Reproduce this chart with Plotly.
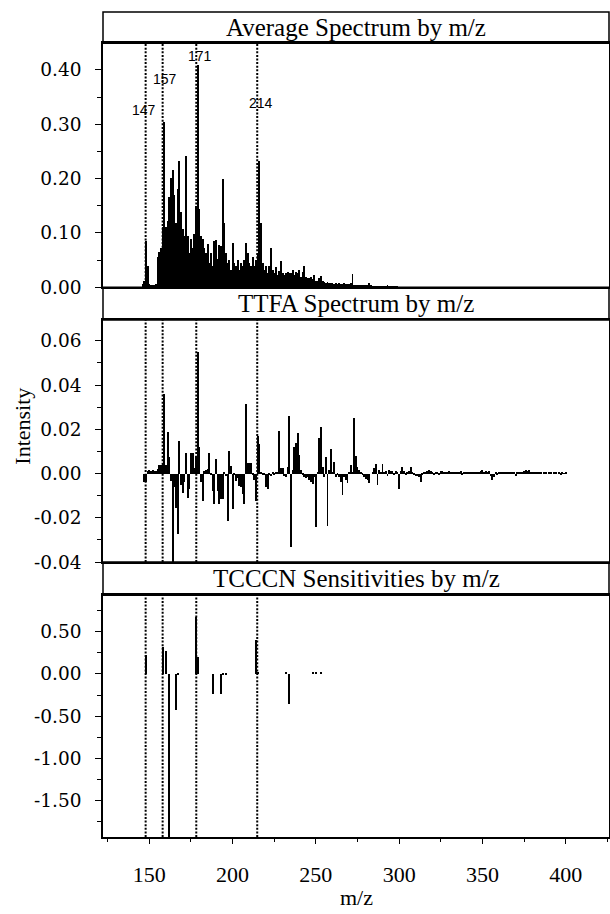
import plotly.graph_objects as go

# ---------------- data ----------------
# Average spectrum (top panel)
avg_mz = list(range(146, 300))
avg_intensity = [
    0.006, 0.012, 0.085, 0.038, 0.005, 0.004, 0.004, 0.004, 0.005, 0.055,
    0.065, 0.072, 0.110, 0.303, 0.110, 0.122, 0.165, 0.200, 0.215, 0.170,
    0.118, 0.180, 0.232, 0.138, 0.106, 0.094, 0.242, 0.094, 0.063, 0.088,
    0.072, 0.098, 0.150, 0.408, 0.143, 0.094, 0.088, 0.072, 0.063, 0.080,
    0.044, 0.063, 0.038, 0.084, 0.086, 0.052, 0.078, 0.075, 0.198, 0.118,
    0.063, 0.044, 0.050, 0.032, 0.081, 0.044, 0.038, 0.050, 0.032, 0.044,
    0.038, 0.050, 0.081, 0.063, 0.044, 0.038, 0.056, 0.038, 0.050, 0.060,
    0.232, 0.118, 0.044, 0.032, 0.038, 0.026, 0.038, 0.072, 0.032, 0.026,
    0.036, 0.022, 0.030, 0.047, 0.025, 0.022, 0.026, 0.028, 0.025, 0.026,
    0.032, 0.022, 0.028, 0.025, 0.032, 0.018, 0.028, 0.038, 0.018, 0.016,
    0.016, 0.019, 0.014, 0.022, 0.012, 0.011, 0.017, 0.020, 0.012, 0.010,
    0.008, 0.010, 0.008, 0.007, 0.008, 0.006, 0.007, 0.005, 0.008, 0.006,
    0.005, 0.007, 0.005, 0.006, 0.005, 0.008, 0.024, 0.004, 0.003, 0.004,
    0.003, 0.003, 0.003, 0.003, 0.003, 0.004, 0.007, 0.003, 0.002, 0.002,
    0.002, 0.002, 0.002, 0.002, 0.002, 0.001, 0.002, 0.003, 0.002, 0.002,
    0.001, 0.001, 0.001, 0.001,
]

# TTFA spectrum (middle panel)
ttfa_mz = list(range(147, 401))
ttfa_values = [
    -0.0040, -0.0040, 0.0010, 0.0015, 0.0010, 0.0015, 0.0010, 0.0012, 0.0020, 0.0038,
    0.0040, 0.0045, 0.0360, 0.0040, 0.0186, 0.0075, -0.0033, -0.0420, -0.0060, -0.0154,
    -0.0275, 0.0148, -0.0050, -0.0086, -0.0040, 0.0095, -0.0110, -0.0070, 0.0095, 0.0095,
    0.0025, 0.0080, 0.0550, 0.0118, -0.0040, -0.0124, 0.0012, 0.0015, 0.0020, 0.0095,
    -0.0003, -0.0080, -0.0139, 0.0065, -0.0078, -0.0139, -0.0116, -0.0116, 0.0005, -0.0010,
    -0.0214, 0.0103, 0.0035, -0.0161, -0.0003, -0.0033, -0.0018, -0.0056, -0.0063, -0.0094,
    -0.0139, 0.0314, 0.0047, 0.0047, 0.0047, -0.0003, -0.0030, -0.0124, 0.0170, 0.0133,
    0.0005, -0.0003, -0.0003, -0.0060, -0.0070, -0.0003, -0.0010, 0.0005, -0.0005, 0.0003,
    0.0005, 0.0193, 0.0027, 0.0024, -0.0010, -0.0015, 0.0030, 0.0260, -0.0330, 0.0015,
    0.0120, 0.0136, 0.0184, 0.0083, 0.0015, -0.0008, -0.0015, -0.0020, -0.0015, -0.0030,
    -0.0040, -0.0045, -0.0015, -0.0240, 0.0008, 0.0160, 0.0210, 0.0030, -0.0015, 0.0075,
    -0.0238, 0.0015, 0.0109, 0.0008, 0.0053, -0.0015, -0.0008, -0.0015, -0.0038, -0.0098,
    -0.0015, -0.0030, -0.0042, 0.0008, 0.0038, 0.0008, 0.0249, 0.0080, 0.0030, 0.0015,
    0.0003, -0.0008, -0.0015, -0.0023, -0.0030, -0.0042, 0.0000, 0.0008, 0.0023, 0.0045,
    -0.0050, 0.0015, 0.0008, 0.0042, 0.0008, 0.0012, -0.0010, 0.0015, 0.0010, 0.0012,
    -0.0008, 0.0010, 0.0008, -0.0072, 0.0012, 0.0030, 0.0010, -0.0005, 0.0008, 0.0012,
    0.0030, 0.0008, -0.0008, -0.0012, -0.0010, -0.0015, -0.0040, -0.0008, 0.0005, 0.0008,
    0.0012, 0.0015, 0.0012, 0.0008, -0.0005, 0.0005, 0.0008, -0.0008, 0.0010, 0.0012,
    0.0006, 0.0008, 0.0005, 0.0010, 0.0006, 0.0008, 0.0005, 0.0009, 0.0006, 0.0004,
    0.0010, -0.0005, 0.0006, 0.0008, 0.0005, 0.0007, 0.0004, 0.0006, 0.0008, 0.0005,
    0.0006, 0.0004, 0.0012, 0.0015, 0.0009, 0.0012, 0.0006, 0.0010, -0.0012, -0.0030,
    -0.0015, 0.0008, -0.0005, 0.0005, 0.0006, 0.0004, 0.0005, 0.0006, 0.0003, 0.0005,
    0.0004, 0.0006, 0.0008, -0.0010, 0.0005, 0.0006, 0.0004, 0.0008, 0.0012, 0.0016,
    0.0010, 0.0014, 0.0008, 0.0005, 0.0004, 0.0006, 0.0008, 0.0004, 0.0003, 0.0000,
    0.0004, 0.0003, 0.0000, 0.0004, 0.0003, 0.0000, 0.0003, 0.0004, 0.0000, 0.0003,
    -0.0005, 0.0003, 0.0002, 0.0003,
]

# TCCCN sensitivities (bottom panel)
tcccn_mz = [148, 158, 160, 162, 166, 167, 178, 179, 188, 193, 194, 196,
            214, 215, 232, 234, 248, 250, 253]
tcccn_values = [0.22, 0.31, 0.27, -1.98, -0.43, -0.02, 0.67, 0.20, -0.245, -0.245,
                -0.02, -0.01, 0.395, 0.02, 0.02, -0.355, 0.015, 0.015, 0.015]

# marked m/z (dotted lines) and their labels
marker_mz = [147.8, 158.0, 178.2, 214.8]
marker_labels = ["147", "157", "171", "214"]
marker_label_x = [147.0, 159.2, 180.2, 217.1]
marker_label_y = [0.326, 0.384, 0.426, 0.339]

panel_titles = ["Average Spectrum by m/z", "TTFA Spectrum by m/z",
                "TCCCN Sensitivities by m/z"]

x_ticks = [150, 200, 250, 300, 350, 400]
top_ticks = [0.0, 0.1, 0.2, 0.3, 0.4]
mid_ticks = [-0.04, -0.02, 0.0, 0.02, 0.04, 0.06]
bot_ticks = [-1.5, -1.0, -0.5, 0.0, 0.5]

# ---------------- layout geometry ----------------
X_RANGE = [122.2, 426.0]
plot_domains = [[0.6663, 0.9621], [0.3333, 0.6267], [0.0, 0.2930]]
title_domains = [[0.9621, 1.0], [0.6267, 0.6663], [0.2930, 0.3333]]
y_ranges = [[0.0, 0.449], [-0.04, 0.0694], [-1.931, 0.931]]
minor_dt = [0.05, 0.01, 0.25]

SERIF = "Liberation Serif, Times New Roman, serif"
TICKSERIF = "DejaVu Serif, serif"

fig = go.Figure()

bar_style = dict(marker=dict(color="black", line=dict(width=0)), width=0.58,
                 showlegend=False, hoverinfo="x+y")
fig.add_trace(go.Bar(x=avg_mz, y=avg_intensity, xaxis="x", yaxis="y", **bar_style))
fig.add_trace(go.Bar(x=ttfa_mz, y=ttfa_values, xaxis="x2", yaxis="y2", **bar_style))
fig.add_trace(go.Bar(x=tcccn_mz, y=tcccn_values, xaxis="x3", yaxis="y3", **bar_style))


def fmt(v):
    return f"{v:.2f}"


tick_sets = [top_ticks, mid_ticks, bot_ticks]
layout = dict(
    width=610, height=914,
    margin=dict(l=103, r=1, t=12, b=77),
    paper_bgcolor="white", plot_bgcolor="white",
    showlegend=False,
    bargap=0,
)
for i in range(3):
    xs = "xaxis" if i == 0 else f"xaxis{i+1}"
    ys = "yaxis" if i == 0 else f"yaxis{i+1}"
    yname = "y" if i == 0 else f"y{i+1}"
    xa = dict(
        domain=[0, 1], anchor=yname, range=X_RANGE, automargin=False,
        showline=True, mirror=True, linecolor="black", linewidth=1.5,
        showgrid=False, zeroline=False,
    )
    if i < 2:
        xa.update(ticks="", showticklabels=False, matches="x3")
    else:
        xa.update(
            ticks="outside", ticklen=5, tickwidth=1.2, tickcolor="black",
            tickvals=x_ticks, ticktext=[str(v) for v in x_ticks],
            tickfont=dict(family=SERIF, size=22, color="black"),
            ticklabelstandoff=12,
            minor=dict(ticks="outside", ticklen=3, tickwidth=1, tickcolor="black",
                       dtick=25, tick0=0),
        )
    layout[xs] = xa
    layout[ys] = dict(
        domain=plot_domains[i], anchor="x" if i == 0 else f"x{i+1}",
        range=y_ranges[i], automargin=False,
        showline=True, mirror=True, linecolor="black", linewidth=1.5,
        showgrid=False, zeroline=False,
        ticks="outside", ticklen=6, tickwidth=1.2, tickcolor="black",
        tickvals=tick_sets[i], ticktext=[fmt(v) for v in tick_sets[i]],
        tickfont=dict(family=TICKSERIF, size=18.5, color="black"),
        ticklabelstandoff=10,
        minor=dict(ticks="outside", ticklen=4, tickwidth=1, tickcolor="black",
                   dtick=minor_dt[i], tick0=0),
    )

shapes = []
annotations = []
for i in range(3):
    x_ref = "x" if i == 0 else f"x{i+1}"
    y_dom = "y domain" if i == 0 else f"y{i+1} domain"
    # title box
    shapes.append(dict(type="rect", xref="paper", yref="paper", x0=0, x1=1,
                       y0=title_domains[i][0], y1=title_domains[i][1],
                       line=dict(color="black", width=1.5), fillcolor="rgba(0,0,0,0)"))
    annotations.append(dict(text=panel_titles[i], xref="paper", yref="paper",
                            x=0.5, y=(title_domains[i][0] + title_domains[i][1]) / 2,
                            xanchor="center", yanchor="middle", showarrow=False,
                            font=dict(family=SERIF, size=25, color="black")))
    for m in marker_mz:
        shapes.append(dict(type="line", xref=x_ref, yref=y_dom, x0=m, x1=m, y0=0, y1=1,
                           line=dict(color="black", width=2, dash="2px,1.6px"),
                           layer="above"))

for lbl, lx, ly in zip(marker_labels, marker_label_x, marker_label_y):
    annotations.append(dict(text=lbl, xref="x", yref="y", x=lx, y=ly,
                            xanchor="center", yanchor="middle", showarrow=False,
                            font=dict(family="Liberation Sans, Arial, sans-serif",
                                      size=14, color="black")))

annotations.append(dict(text="Intensity", xref="paper", yref="paper", x=0, y=0.498,
                        xshift=-80.5, xanchor="center", yanchor="middle",
                        textangle=-90, showarrow=False,
                        font=dict(family=SERIF, size=22, color="black")))
annotations.append(dict(text="m/z", xref="paper", yref="paper", x=0.5, y=-0.073,
                        xanchor="center", yanchor="middle", showarrow=False,
                        font=dict(family=SERIF, size=22, color="black")))

layout["shapes"] = shapes
layout["annotations"] = annotations
fig.update_layout(**layout)

fig.write_html(
    "out.html",
    config={"displayModeBar": False},
    post_script="document.body.style.margin='0';document.body.style.padding='0';"
                "document.body.style.overflow='hidden';",
)
